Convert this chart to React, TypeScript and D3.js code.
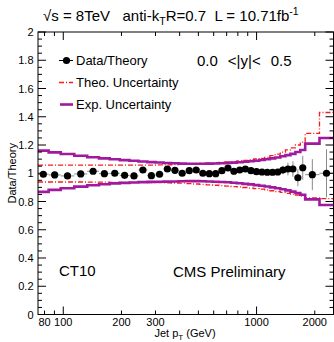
import { useEffect, useRef } from "react"
import * as d3 from "d3"

// jet pT bin edges (GeV)
const edges = [74, 84, 97, 114, 133, 153, 174, 196, 220, 245, 272, 300, 330, 362, 395, 430, 468, 507, 548, 592, 638, 686, 737, 790, 846, 905, 967, 1032, 1101, 1172, 1248, 1327, 1410, 1497, 1588, 1684, 1784, 2116, 2500]
const ratio = [0.993, 0.988, 0.981, 0.995, 1.014, 0.997, 1.0, 0.985, 0.981, 1.023, 0.983, 0.993, 1.03, 1.021, 1.0, 1.018, 1.023, 1.0, 0.997, 0.997, 1.018, 1.037, 1.014, 1.023, 1.03, 1.018, 1.011, 1.009, 1.007, 1.007, 1.009, 1.023, 1.03, 1.03, 0.968, 1.039, 0.99, 1.0]
const ratioErr = [0.004, 0.004, 0.004, 0.004, 0.004, 0.004, 0.004, 0.004, 0.004, 0.004, 0.004, 0.004, 0.004, 0.004, 0.004, 0.004, 0.004, 0.004, 0.004, 0.004, 0.006, 0.006, 0.006, 0.006, 0.006, 0.008, 0.01, 0.012, 0.014, 0.018, 0.022, 0.03, 0.045, 0.055, 0.06, 0.085, 0.11, 0.17]
const expUp = [1.16, 1.148, 1.136, 1.124, 1.113, 1.105, 1.099, 1.093, 1.088, 1.083, 1.079, 1.076, 1.073, 1.071, 1.068, 1.067, 1.067, 1.067, 1.068, 1.069, 1.071, 1.073, 1.075, 1.078, 1.081, 1.085, 1.089, 1.094, 1.099, 1.105, 1.112, 1.12, 1.128, 1.137, 1.15, 1.165, 1.21, 1.25]
const expDn = [0.868, 0.882, 0.894, 0.905, 0.915, 0.922, 0.928, 0.932, 0.935, 0.937, 0.939, 0.94, 0.941, 0.942, 0.943, 0.944, 0.944, 0.943, 0.942, 0.94, 0.938, 0.936, 0.933, 0.929, 0.925, 0.921, 0.916, 0.911, 0.906, 0.9, 0.894, 0.887, 0.879, 0.87, 0.86, 0.848, 0.815, 0.775]
const theoUp = [1.058, 1.058, 1.058, 1.058, 1.058, 1.058, 1.058, 1.058, 1.058, 1.058, 1.058, 1.059, 1.06, 1.062, 1.064, 1.066, 1.068, 1.07, 1.072, 1.074, 1.077, 1.08, 1.083, 1.087, 1.091, 1.096, 1.101, 1.106, 1.112, 1.125, 1.135, 1.15, 1.165, 1.18, 1.2, 1.22, 1.283, 1.43]
const theoDn = [0.938, 0.938, 0.938, 0.938, 0.937, 0.937, 0.936, 0.936, 0.935, 0.935, 0.934, 0.933, 0.932, 0.931, 0.93, 0.927, 0.924, 0.921, 0.918, 0.915, 0.912, 0.909, 0.906, 0.903, 0.899, 0.895, 0.891, 0.887, 0.882, 0.876, 0.87, 0.864, 0.858, 0.852, 0.846, 0.838, 0.825, 0.82]

const xTicks = [80, 90, 100, 200, 300, 400, 500, 600, 700, 800, 900, 1000, 2000]
const xLabels = [80, 100, 200, 300, 1000, 2000]
const xMajor = [100, 1000]
const yLabels = [0, 0.2, 0.4, 0.6, 0.8, 1, 1.2, 1.4, 1.6, 1.8, 2]

const PURPLE = "#a0199f"
const RED = "#ff1a1a"
const FONT = "Liberation Sans, Arial, Helvetica, sans-serif"

export default function App() {
  const ref = useRef<SVGSVGElement>(null)
  useEffect(() => {
    if (!ref.current) return
    const m = { left: 38, right: 333.5, top: 32, bottom: 314.5 }
    const svg = d3.select(ref.current)
    svg.selectAll("*").remove()
    svg.style("font-family", FONT)

    const x = d3.scaleLog().domain([74, 2500]).range([m.left, m.right])
    const y = d3.scaleLinear().domain([0, 2]).range([m.bottom, m.top])

    const step = (vals: number[]) => {
      const pts = vals.map((v, i) => [edges[i], v] as [number, number])
      pts.push([edges[edges.length - 1], vals[vals.length - 1]])
      return d3.line<[number, number]>().x(d => x(d[0])).y(d => y(d[1])).curve(d3.curveStepAfter)(pts)
    }

    const plot = svg.append("g")
    // theory uncertainty
    for (const vals of [theoUp, theoDn])
      plot.append("path").attr("d", step(vals)).attr("fill", "none").attr("stroke", RED)
        .attr("stroke-width", 1.3).attr("stroke-dasharray", "5,2,1,2")
    // experimental uncertainty
    for (const vals of [expUp, expDn])
      plot.append("path").attr("d", step(vals)).attr("fill", "none").attr("stroke", PURPLE)
        .attr("stroke-width", 2.6)

    const pts = ratio.map((v, i) => ({ lo: edges[i], hi: edges[i + 1], c: Math.sqrt(edges[i] * edges[i + 1]), v, e: ratioErr[i] }))
    plot.selectAll(".xe").data(pts).join("line")
      .attr("x1", d => x(d.lo)).attr("x2", d => x(d.hi)).attr("y1", d => y(d.v)).attr("y2", d => y(d.v))
      .attr("stroke", "#8a8a8a").attr("stroke-width", 1)
    plot.selectAll(".ye").data(pts).join("line")
      .attr("x1", d => x(d.c)).attr("x2", d => x(d.c)).attr("y1", d => y(d.v - d.e)).attr("y2", d => y(d.v + d.e))
      .attr("stroke", "#8a8a8a").attr("stroke-width", 1)
    plot.selectAll("circle").data(pts).join("circle")
      .attr("cx", d => x(d.c)).attr("cy", d => y(d.v)).attr("r", 3.6).attr("fill", "#000")

    // frame
    const ax = svg.append("g").attr("stroke", "#000").attr("stroke-width", 1)
    ax.append("rect").attr("x", m.left).attr("y", m.top).attr("width", m.right - m.left).attr("height", m.bottom - m.top).attr("fill", "none")
    for (const t of xTicks) {
      const len = xMajor.includes(t) ? 8 : 4
      ax.append("line").attr("x1", x(t)).attr("x2", x(t)).attr("y1", m.bottom).attr("y2", m.bottom - len)
      ax.append("line").attr("x1", x(t)).attr("x2", x(t)).attr("y1", m.top).attr("y2", m.top + len)
    }
    for (const t of d3.range(0, 2.001, 0.05)) {
      const len = Math.abs(t / 0.2 - Math.round(t / 0.2)) < 1e-6 ? 8 : 4
      ax.append("line").attr("x1", m.left).attr("x2", m.left + len).attr("y1", y(t)).attr("y2", y(t))
      ax.append("line").attr("x1", m.right).attr("x2", m.right - len).attr("y1", y(t)).attr("y2", y(t))
    }

    // tick labels
    svg.selectAll(".xl").data(xLabels).join("text")
      .attr("x", d => x(d)).attr("y", 326).attr("text-anchor", "middle").attr("font-size", 11).text(d => d)
    svg.selectAll(".yl").data(yLabels).join("text")
      .attr("x", 33.5).attr("y", d => y(d) + 4).attr("text-anchor", "end").attr("font-size", 11).text(d => d)

    // axis titles
    const xt = svg.append("text").attr("x", 185).attr("y", 337).attr("text-anchor", "middle").attr("font-size", 11)
    xt.append("tspan").text("Jet p")
    xt.append("tspan").attr("font-size", 8).attr("dy", 3).text("T")
    xt.append("tspan").attr("dy", -3).text(" (GeV)")
    svg.append("text").attr("transform", `translate(16,${y(1)}) rotate(-90)`).attr("text-anchor", "middle")
      .attr("font-size", 11).text("Data/Theory")

    // header
    const hd = svg.append("text").attr("x", 43).attr("y", 20.5).attr("font-size", 15).style("white-space", "pre")
    hd.append("tspan").text("\u221as = 8TeV   anti-k")
    hd.append("tspan").attr("font-size", 10.5).attr("dy", 4).text("T")
    hd.append("tspan").attr("dy", -4).text("R=0.7  L = 10.71fb")
    hd.append("tspan").attr("font-size", 10.5).attr("dy", -6).text("-1")

    // legend
    const lg = svg.append("g")
    const rows = [60.5, 82.5, 104.5]
    lg.append("line").attr("x1", 59).attr("x2", 73).attr("y1", rows[0]).attr("y2", rows[0]).attr("stroke", "#000")
    lg.append("circle").attr("cx", 66.5).attr("cy", rows[0]).attr("r", 3.6).attr("fill", "#000")
    lg.append("line").attr("x1", 59).attr("x2", 73).attr("y1", rows[1]).attr("y2", rows[1]).attr("stroke", RED)
      .attr("stroke-width", 1.3).attr("stroke-dasharray", "5,2,1,2")
    lg.append("line").attr("x1", 60).attr("x2", 73).attr("y1", rows[2]).attr("y2", rows[2]).attr("stroke", PURPLE).attr("stroke-width", 2.6)
    const names = ["Data/Theory", "Theo. Uncertainty", "Exp. Uncertainty"]
    names.forEach((n, i) => lg.append("text").attr("x", 76).attr("y", rows[i] + 4.8).attr("font-size", 13).text(n))

    const rap = svg.append("text").attr("x", 197).attr("y", 65.5).attr("font-size", 15)
    rap.append("tspan").text("0.0")
    rap.append("tspan").attr("dx", 10).text("<|y|<")
    rap.append("tspan").attr("dx", 10).text("0.5")
    svg.append("text").attr("x", 59).attr("y", 275.5).attr("font-size", 15).text("CT10")
    svg.append("text").attr("x", 173).attr("y", 276.5).attr("font-size", 15).text("CMS Preliminary")
  }, [])
  return <svg ref={ref} width={334} height={342} style={{ position: "absolute", left: 0, top: 0, background: "#fff" }} />
}
